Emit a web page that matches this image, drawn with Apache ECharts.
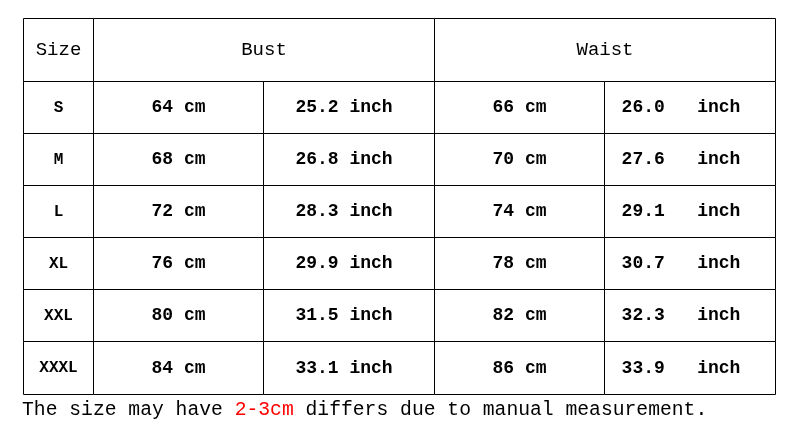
<!DOCTYPE html>
<html>
<head>
<meta charset="utf-8">
<script src="https://cdn.jsdelivr.net/npm/echarts@6/dist/echarts.min.js"></script>
<style>
  html, body { margin: 0; padding: 0; background: #fff; }
  #main { width: 800px; height: 430px; }
</style>
</head>
<body>
<div id="main"></div>
<script>
// table content
const headers = ['Size', 'Bust', 'Waist'];
const sizes = ['S', 'M', 'L', 'XL', 'XXL', 'XXXL'];
const bustCm = [64, 68, 72, 76, 80, 84];
const bustInch = [25.2, 26.8, 28.3, 29.9, 31.5, 33.1];
const waistCm = [66, 70, 74, 78, 82, 86];
const waistInch = [26.0, 27.6, 29.1, 30.7, 32.3, 33.9];
const noteParts = ['The size may have ', '2-3cm', ' differs due to manual measurement.'];

// layout (axis units = px inside the grid)
const colEdges = [0, 70, 240, 411, 581, 752];
const rowEdges = [0, 63, 115, 167, 219, 271, 323, 376];
const colShift = [0, 0, -5, 0, -9];

const monoFont = '"Liberation Mono", "DejaVu Sans Mono", monospace';

// build cell list
let cells = [];
cells.push({ c0: 0, c1: 1, r0: 0, r1: 1, text: headers[0], kind: 'head' });
cells.push({ c0: 1, c1: 3, r0: 0, r1: 1, text: headers[1], kind: 'head' });
cells.push({ c0: 3, c1: 5, r0: 0, r1: 1, text: headers[2], kind: 'head' });
for (let i = 0; i < sizes.length; i++) {
  let r = i + 1;
  cells.push({ c0: 0, c1: 1, r0: r, r1: r + 1, text: sizes[i], kind: 'size' });
  cells.push({ c0: 1, c1: 2, r0: r, r1: r + 1, text: bustCm[i] + ' cm', kind: 'val' });
  cells.push({ c0: 2, c1: 3, r0: r, r1: r + 1, text: bustInch[i].toFixed(1) + ' inch', kind: 'val' });
  cells.push({ c0: 3, c1: 4, r0: r, r1: r + 1, text: waistCm[i] + ' cm', kind: 'val' });
  cells.push({ c0: 4, c1: 5, r0: r, r1: r + 1, text: waistInch[i].toFixed(1) + '   inch', kind: 'val' });
}

function cellFont(kind) {
  if (kind == 'head') return 'normal 19px ' + monoFont;
  if (kind == 'size') return 'bold 16px ' + monoFont;
  return 'bold 18px ' + monoFont;
}

function renderCell(params, api) {
  let cell = cells[params.dataIndex];
  let p0 = api.coord([colEdges[api.value(0)], rowEdges[api.value(2)]]);
  let p1 = api.coord([colEdges[api.value(1)], rowEdges[api.value(3)]]);
  let x0 = Math.round(p0[0]) + 0.5, y0 = Math.round(p0[1]) + 0.5;
  let x1 = Math.round(p1[0]) + 0.5, y1 = Math.round(p1[1]) + 0.5;
  let shift = cell.kind == 'head' ? 0 : colShift[cell.c0];
  return {
    type: 'group',
    children: [
      {
        type: 'rect',
        shape: { x: x0, y: y0, width: x1 - x0, height: y1 - y0 },
        style: { fill: '#fff', stroke: '#000', lineWidth: 1 }
      },
      {
        type: 'text',
        x: (x0 + x1) / 2 + shift,
        y: (y0 + y1) / 2,
        style: {
          text: cell.text,
          font: cellFont(cell.kind),
          fill: '#000',
          textAlign: 'center',
          textVerticalAlign: 'middle'
        }
      }
    ]
  };
}

const chart = echarts.init(document.getElementById('main'));
chart.setOption({
  backgroundColor: '#fff',
  animation: false,
  title: {
    left: 22,
    top: 399,
    padding: 0,
    text: '{a|' + noteParts[0] + '}{r|' + noteParts[1] + '}{a|' + noteParts[2] + '}',
    textStyle: {
      rich: {
        a: { fontFamily: monoFont, fontSize: 19.7, color: '#000', fontWeight: 'normal', lineHeight: 22 },
        r: { fontFamily: monoFont, fontSize: 19.7, color: '#ff0000', fontWeight: 'normal', lineHeight: 22 }
      }
    }
  },
  grid: { left: 23, top: 18, width: 752, height: 376 },
  xAxis: { type: 'value', min: 0, max: 752, show: false },
  yAxis: { type: 'value', min: 0, max: 376, inverse: true, show: false },
  series: [{
    type: 'custom',
    renderItem: renderCell,
    silent: true,
    data: cells.map(c => [c.c0, c.c1, c.r0, c.r1])
  }]
});
</script>
</body>
</html>
